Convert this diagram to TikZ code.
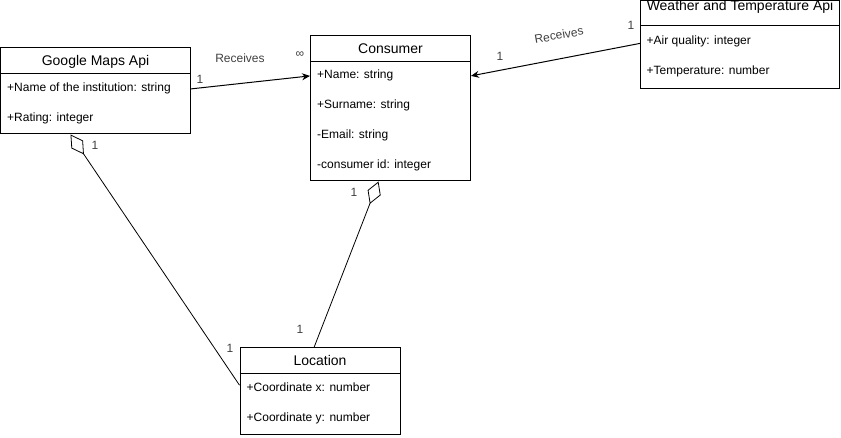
\documentclass[tikz,border=0pt]{standalone}
\usepackage{fontspec}
\setmainfont{Liberation Sans}
\usetikzlibrary{arrows.meta}

\begin{document}
\begin{tikzpicture}[x=1pt,y=-1pt]
	\tikzset{classbox/.style={draw, line width=1pt, inner sep=0pt}}
	\tikzset{classtitle/.style={anchor=base, font=\fontsize{14}{16}\selectfont, inner sep=0pt}}
	\tikzset{attr/.style={anchor=base west, font=\fontsize{12}{14}\selectfont, inner sep=0pt}}
	\tikzset{mult/.style={font=\fontsize{12}{14}\selectfont, text=black!75, inner sep=1pt}}
	\tikzset{assoc/.style={line width=1pt, -{Stealth[length=8pt,width=7pt]}}}
	\tikzset{aggr/.style={line width=0.8pt, {Diamond[open,length=24pt,width=14pt]}-}}
	\useasboundingbox (0,0) rectangle (841,438);

	% classes
	\node[classbox, minimum width=190pt, minimum height=86pt] (gmaps) at (95.5,91) {};
	\draw[line width=1pt] ([yshift=-26pt]gmaps.north west) -- ([yshift=-26pt]gmaps.north east);
	\node[classtitle] (gmapstitle) at ([yshift=-18pt]gmaps.north) {Google Maps Api};
	\node[attr] (gmapsname) at (7,92) {+Name of the institution: string};
	\node[attr] (gmapsrating) at (7,122) {+Rating: integer};

	\node[classbox, minimum width=160pt, minimum height=145pt] (consumer) at (390.5,108.5) {};
	\draw[line width=1pt] ([yshift=-26pt]consumer.north west) -- ([yshift=-26pt]consumer.north east);
	\node[classtitle] (consumertitle) at ([yshift=-18pt]consumer.north) {Consumer};
	\node[attr] (consumername) at (317,79) {+Name: string};
	\node[attr] (consumersurname) at (317,109) {+Surname: string};
	\node[attr] (consumermail) at (317,139) {-Email: string};
	\node[attr] (consumerid) at (317,169) {-consumer id: integer};

	\node[classbox, minimum width=199pt, minimum height=88pt] (weather) at (740,44.5) {};
	\draw[line width=1pt] ([yshift=-26pt]weather.north west) -- ([yshift=-26pt]weather.north east);
	\node[classtitle] (weathertitle) at ([yshift=-10.5pt]weather.north) {Weather and Temperature Api};
	\node[attr] (weatherair) at (646.5,44.5) {+Air quality: integer};
	\node[attr] (weathertemp) at (646.5,74.5) {+Temperature: number};

	\node[classbox, minimum width=160pt, minimum height=86pt] (location) at (320,391) {};
	\draw[line width=1pt] ([yshift=-26pt]location.north west) -- ([yshift=-26pt]location.north east);
	\node[classtitle] (locationtitle) at ([yshift=-18pt]location.north) {Location};
	\node[attr] (locationx) at (246.5,391.5) {+Coordinate x: number};
	\node[attr] (locationy) at (246.5,421.5) {+Coordinate y: number};

	% associations
	\draw[assoc] (gmaps.east |- gmapsname) -- (consumer.west |- consumername);
	\draw[assoc] ([yshift=-2pt]weather.west |- weatherair) -- (consumer.east |- consumername);
	\draw[aggr] ([xshift=-12pt]consumer.south) -- ([xshift=-6pt]location.north);
	\draw[aggr] ([xshift=-25pt]gmaps.south) -- ([yshift=2pt]location.west |- locationx);

	% labels
	\node[mult] (recv1) at (240,58) {Receives};
	\node[mult] (gm1) at (200,79) {1};
	\node[mult] (cinf) at (300,55) {∞};
	\node[mult, rotate=10] (recv2) at (559,35) {Receives};
	\node[mult] (c1) at (500,56) {1};
	\node[mult] (w1) at (631,25) {1};
	\node[mult] (c2) at (354,192) {1};
	\node[mult] (l1) at (300,329) {1};
	\node[mult] (gm2) at (95,145) {1};
	\node[mult] (l2) at (230,348) {1};
\end{tikzpicture}
\end{document}
